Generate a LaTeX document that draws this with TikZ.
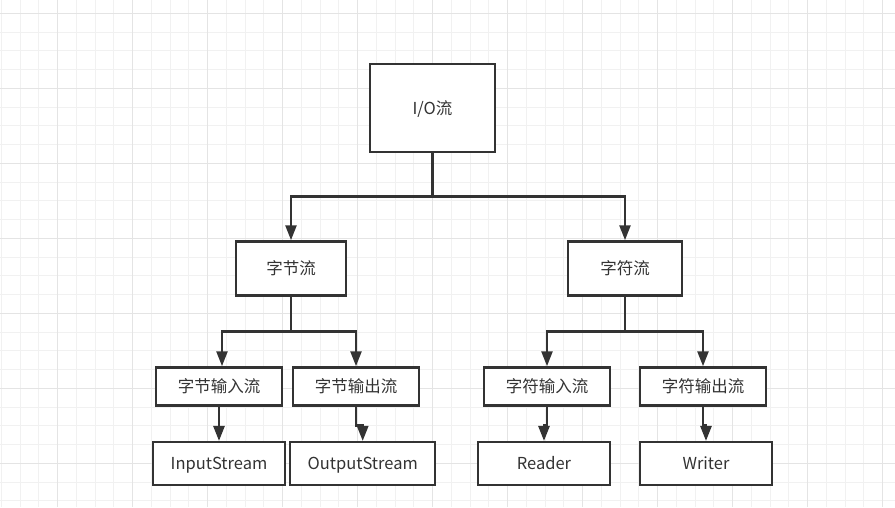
\documentclass[tikz,border=0pt]{standalone}
\usepackage{fontspec}
\setmainfont{Noto Sans CJK SC}
\usetikzlibrary{arrows.meta}
\definecolor{ink}{HTML}{333333}
\definecolor{gmin}{HTML}{F1F1F1}
\definecolor{gmaj}{HTML}{E4E4E4}
\tikzset{
  box/.style={draw=ink,line width=2.5pt,fill=white,text=ink,inner sep=0pt,
    font=\fontsize{16.5}{19}\selectfont,text height=12pt,text depth=0pt},
  arr/.style={draw=ink,line width=2.5pt,-{Triangle[length=15pt,width=11pt]}},
  link/.style={draw=ink,line width=2.5pt},
  gridmin/.style={draw=gmin,line width=1pt},
  gridmaj/.style={draw=gmaj,line width=1pt}
}
\begin{document}
\begin{tikzpicture}[x=1pt,y=-1pt]
\useasboundingbox (0,0) rectangle (895,507);
\fill[white] (0,0) rectangle (895,507);
\foreach \i in {0,...,47} \draw[gridmin] ({1.25+18.75*\i},0) -- ++(0,507);
\foreach \j in {0,...,26} \draw[gridmin] (0,{13.33+18.75*\j}) -- ++(895,0);
\foreach \i in {0,...,11} \draw[gridmaj] ({57.5+75*\i},0) -- ++(0,507);
\foreach \j in {0,...,6} \draw[gridmaj] (0,{13.33+75*\j}) -- ++(895,0);

\node[box,minimum width=125pt,minimum height=88pt] (io) at (432.5,108) {I/O流};
\node[box,minimum width=110pt,minimum height=54pt] (byte) at (291,268.5) {字节流};
\node[box,minimum width=114pt,minimum height=54pt] (char) at (625,268.5) {字符流};
\node[box,minimum width=126pt,minimum height=38pt] (bin) at (219,386.5) {字节输入流};
\node[box,minimum width=126pt,minimum height=38pt] (bout) at (356,386.5) {字节输出流};
\node[box,minimum width=126pt,minimum height=38pt] (cin) at (547,386.5) {字符输入流};
\node[box,minimum width=126pt,minimum height=38pt] (cout) at (703,386.5) {字符输出流};
\node[box,minimum width=132pt,minimum height=43pt] (is) at (219,463.7) {InputStream};
\node[box,minimum width=145pt,minimum height=43pt] (os) at (362.7,463.7) {OutputStream};
\node[box,minimum width=132pt,minimum height=43pt] (rd) at (544,463.7) {Reader};
\node[box,minimum width=132pt,minimum height=43pt] (wr) at (706,463.7) {Writer};

\coordinate (j1) at (432.5,196.7);
\coordinate (j2) at (291,331.7);
\coordinate (j3) at (625,331.7);

\draw[link] (io.south) -- (j1);
\draw[arr] (j1) -| (byte.north);
\draw[arr] (j1) -| (char.north);

\draw[link] (byte.south) -- (j2);
\draw[arr] (j2) -| ([xshift=3pt]bin.north);
\draw[arr] (j2) -| (bout.north);

\draw[link] (char.south) -- (j3);
\draw[arr] (j3) -| (cin.north);
\draw[arr] (j3) -| (cout.north);

\draw[arr] (bin.south) -- (is.north);
\draw[arr] (bout.south) -- ++(0,18.5) -| (os.north);
\draw[arr] (cin.south) -- ++(0,18.5) -| (rd.north);
\draw[arr] (cout.south) -- ++(0,18.5) -| (wr.north);
\end{tikzpicture}
\end{document}
